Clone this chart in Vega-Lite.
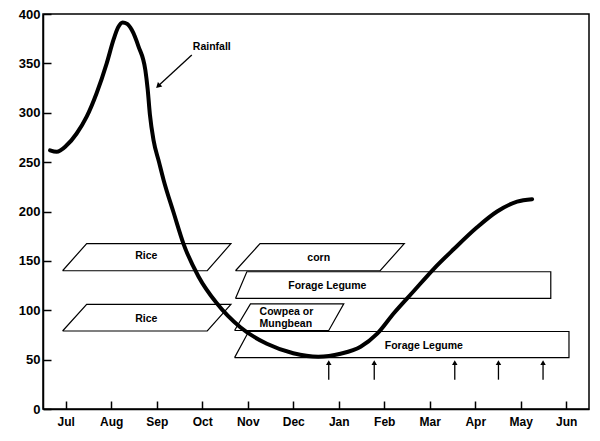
{
  "$schema": "https://vega.github.io/schema/vega-lite/v6.json",
  "width": 546,
  "height": 395,
  "autosize": {"type": "none"},
  "padding": {"left": 43, "top": 14, "right": 11, "bottom": 32},
  "background": "white",
  "config": {
    "view": {"stroke": "black", "strokeWidth": 1.5},
    "axis": {"domainColor": "black", "domainWidth": 1.5, "tickColor": "black", "tickWidth": 1.5, "grid": false, "labelColor": "black", "labelFont": "Liberation Sans", "labelFontWeight": "bold", "labelFontSize": 12}
  },
  "datasets": {
    "rain": [
      {"m": -0.345, "v": 262}, {"m": -0.2, "v": 260.5}, {"m": 0.02, "v": 267}, {"m": 0.24, "v": 279},
      {"m": 0.46, "v": 296}, {"m": 0.68, "v": 320}, {"m": 0.9, "v": 350}, {"m": 1.05, "v": 374},
      {"m": 1.15, "v": 386.5}, {"m": 1.25, "v": 391.5}, {"m": 1.35, "v": 390}, {"m": 1.45, "v": 384},
      {"m": 1.6, "v": 367}, {"m": 1.75, "v": 343}, {"m": 1.8, "v": 324}, {"m": 1.85, "v": 298},
      {"m": 1.93, "v": 272}, {"m": 2.05, "v": 250}, {"m": 2.15, "v": 232}, {"m": 2.37, "v": 199},
      {"m": 2.59, "v": 167}, {"m": 2.92, "v": 134}, {"m": 3.32, "v": 107}, {"m": 3.83, "v": 83},
      {"m": 4.42, "v": 66}, {"m": 5.0, "v": 56.5}, {"m": 5.55, "v": 53}, {"m": 6.04, "v": 56},
      {"m": 6.48, "v": 63}, {"m": 6.84, "v": 76}, {"m": 7.21, "v": 97}, {"m": 7.65, "v": 119.5},
      {"m": 8.09, "v": 142}, {"m": 8.53, "v": 162}, {"m": 9.04, "v": 184}, {"m": 9.48, "v": 200},
      {"m": 9.92, "v": 210}, {"m": 10.25, "v": 212.5}
    ],
    "boxes": [
      {"b": "rice1", "k": 0, "m": -0.07, "v": 140}, {"b": "rice1", "k": 1, "m": 0.46, "v": 167.5}, {"b": "rice1", "k": 2, "m": 3.63, "v": 167.5}, {"b": "rice1", "k": 3, "m": 3.11, "v": 140}, {"b": "rice1", "k": 4, "m": -0.07, "v": 140},
      {"b": "rice2", "k": 0, "m": -0.07, "v": 79}, {"b": "rice2", "k": 1, "m": 0.46, "v": 106}, {"b": "rice2", "k": 2, "m": 3.63, "v": 106}, {"b": "rice2", "k": 3, "m": 3.11, "v": 79}, {"b": "rice2", "k": 4, "m": -0.07, "v": 79},
      {"b": "corn", "k": 0, "m": 3.73, "v": 140}, {"b": "corn", "k": 1, "m": 4.27, "v": 167.5}, {"b": "corn", "k": 2, "m": 7.44, "v": 167.5}, {"b": "corn", "k": 3, "m": 6.91, "v": 140}, {"b": "corn", "k": 4, "m": 3.73, "v": 140},
      {"b": "forage1", "k": 0, "m": 3.73, "v": 112}, {"b": "forage1", "k": 1, "m": 3.98, "v": 139}, {"b": "forage1", "k": 2, "m": 10.66, "v": 139}, {"b": "forage1", "k": 3, "m": 10.66, "v": 112}, {"b": "forage1", "k": 4, "m": 3.73, "v": 112},
      {"b": "cowpea", "k": 0, "m": 3.71, "v": 79.5}, {"b": "cowpea", "k": 1, "m": 4.06, "v": 106.5}, {"b": "cowpea", "k": 2, "m": 6.11, "v": 106.5}, {"b": "cowpea", "k": 3, "m": 5.78, "v": 79.5}, {"b": "cowpea", "k": 4, "m": 3.71, "v": 79.5},
      {"b": "forage2", "k": 0, "m": 3.71, "v": 52}, {"b": "forage2", "k": 1, "m": 4.02, "v": 78.5}, {"b": "forage2", "k": 2, "m": 11.06, "v": 78.5}, {"b": "forage2", "k": 3, "m": 11.06, "v": 52}, {"b": "forage2", "k": 4, "m": 3.71, "v": 52}
    ],
    "arrows": [
      {"m": 5.78, "v0": 29.7, "v1": 47}, {"m": 6.78, "v0": 29.7, "v1": 47}, {"m": 8.55, "v0": 29.7, "v1": 47}, {"m": 9.51, "v0": 29.7, "v1": 47}, {"m": 10.49, "v0": 29.7, "v1": 47}
    ],
    "pointer": [{"m0": 2.77, "v0": 358.4, "m1": 2.03, "v1": 327}],
    "labels": [
      {"m": 1.77, "v": 155, "t": "Rice"},
      {"m": 1.77, "v": 91.6, "t": "Rice"},
      {"m": 5.56, "v": 153.4, "t": "corn"},
      {"m": 5.75, "v": 125, "t": "Forage Legume"},
      {"m": 7.87, "v": 63.5, "t": "Forage Legume"},
      {"m": 3.21, "v": 366.9, "t": "Rainfall"}
    ],
    "leftlabels": [
      {"m": 4.26, "v": 98.3, "t": "Cowpea or"},
      {"m": 4.26, "v": 85.8, "t": "Mungbean"}
    ]
  },
  "encoding": {},
  "layer": [
    {
      "data": {"name": "boxes"},
      "mark": {"type": "line", "stroke": "black", "strokeWidth": 1.2, "strokeJoin": "miter"},
      "encoding": {
        "x": {"field": "m", "type": "quantitative", "scale": {"domain": [-0.5, 11.5], "nice": false, "zero": false},
          "axis": {"title": null, "values": [0,1,2,3,4,5,6,7,8,9,10,11], "tickSize": -8, "labelPadding": 15,
            "labelExpr": "['Jul','Aug','Sep','Oct','Nov','Dec','Jan','Feb','Mar','Apr','May','Jun'][datum.value]"}},
        "y": {"field": "v", "type": "quantitative", "scale": {"domain": [0, 400], "nice": false},
          "axis": {"title": null, "values": [0,50,100,150,200,250,300,350,400], "tickSize": -8, "labelPadding": 11, "labelFontSize": 13}},
        "detail": {"field": "b"},
        "order": {"field": "k"}
      }
    },
    {
      "data": {"name": "rain"},
      "mark": {"type": "line", "stroke": "black", "strokeWidth": 4, "strokeCap": "round", "interpolate": "monotone"},
      "encoding": {
        "x": {"field": "m", "type": "quantitative"},
        "y": {"field": "v", "type": "quantitative"}
      }
    },
    {
      "data": {"name": "arrows"},
      "mark": {"type": "rule", "stroke": "black", "strokeWidth": 1.3},
      "encoding": {
        "x": {"field": "m", "type": "quantitative"},
        "y": {"field": "v0", "type": "quantitative"},
        "y2": {"field": "v1"}
      }
    },
    {
      "data": {"name": "arrows"},
      "mark": {"type": "point", "shape": "triangle-up", "filled": true, "color": "black", "size": 30, "opacity": 1},
      "encoding": {
        "x": {"field": "m", "type": "quantitative"},
        "y": {"field": "v1", "type": "quantitative"}
      }
    },
    {
      "data": {"name": "pointer"},
      "mark": {"type": "rule", "stroke": "black", "strokeWidth": 1.3},
      "encoding": {
        "x": {"field": "m0", "type": "quantitative"},
        "y": {"field": "v0", "type": "quantitative"},
        "x2": {"field": "m1"},
        "y2": {"field": "v1"}
      }
    },
    {
      "data": {"name": "pointer"},
      "mark": {"type": "point", "shape": "triangle-up", "filled": true, "color": "black", "size": 40, "angle": 226, "opacity": 1},
      "encoding": {
        "x": {"field": "m1", "type": "quantitative"},
        "y": {"field": "v1", "type": "quantitative"}
      }
    },
    {
      "data": {"name": "labels"},
      "mark": {"type": "text", "font": "Liberation Sans", "fontWeight": "bold", "fontSize": 10.5, "color": "black", "baseline": "middle", "align": "center"},
      "encoding": {
        "x": {"field": "m", "type": "quantitative"},
        "y": {"field": "v", "type": "quantitative"},
        "text": {"field": "t"}
      }
    },
    {
      "data": {"name": "leftlabels"},
      "mark": {"type": "text", "font": "Liberation Sans", "fontWeight": "bold", "fontSize": 10.5, "color": "black", "baseline": "middle", "align": "left"},
      "encoding": {
        "x": {"field": "m", "type": "quantitative"},
        "y": {"field": "v", "type": "quantitative"},
        "text": {"field": "t"}
      }
    }
  ]
}
